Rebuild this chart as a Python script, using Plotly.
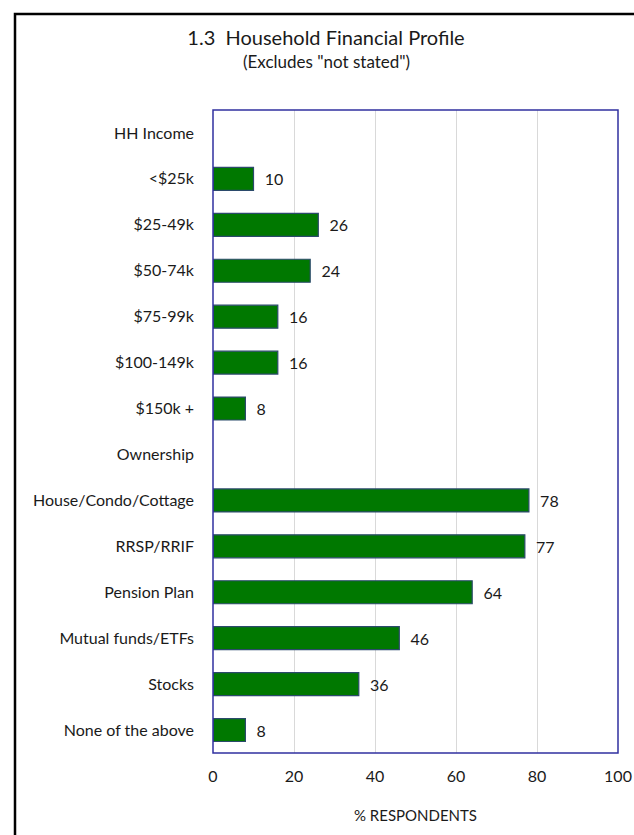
import plotly.graph_objects as go

categories = ["HH Income", "<$25k", "$25-49k", "$50-74k", "$75-99k", "$100-149k", "$150k +",
              "Ownership", "House/Condo/Cottage", "RRSP/RRIF", "Pension Plan",
              "Mutual funds/ETFs", "Stocks", "None of the above"]
values = [None, 10, 26, 24, 16, 16, 8, None, 78, 77, 64, 46, 36, 8]
x_ticks = [0, 20, 40, 60, 80, 100]

FONT = "Lato, 'Open Sans', sans-serif"
NB = "\u00a0"
TXT = "#1a1a1a"

fig = go.Figure(go.Bar(
    y=categories, x=values, orientation="h",
    marker=dict(color="#007800", line=dict(color="#2B4A6B", width=1.2)),
    width=0.5,
    text=[("" if v is None else NB * 2 + str(v)) for v in values],
    textposition="outside", cliponaxis=False,
    textfont=dict(family=FONT, size=16, color=TXT),
))

L, R, T, B = 213, 16, 110, 82
W, H = 634, 835
pw, ph = W - L - R, H - T - B

def px_to_paper_x(px):
    return (px - L) / pw

def px_to_paper_y(py):
    return (H - B - py) / ph

fig.update_layout(
    width=W, height=H, autosize=False,
    margin=dict(l=L, r=R, t=T, b=B, autoexpand=False),
    paper_bgcolor="white", plot_bgcolor="white",
    showlegend=False,
    font=dict(family=FONT, size=16, color=TXT),
    title=dict(
        text="1.3  Household Financial Profile",
        x=326 / W, xanchor="center",
        y=1 - 38 / H, yanchor="middle",
        font=dict(family=FONT, size=20, color=TXT),
    ),
    annotations=[
        dict(text="(Excludes \"not stated\")", xref="paper", yref="paper",
             x=px_to_paper_x(326), y=px_to_paper_y(61), xanchor="center", yanchor="middle",
             showarrow=False, font=dict(family=FONT, size=17, color=TXT)),
    ],
    xaxis=dict(
        range=[0, 100], tickvals=x_ticks, ticktext=[str(t) for t in x_ticks],
        showgrid=True, gridcolor="#D9D9D9", gridwidth=1,
        zeroline=False, showline=False, automargin=False,
        ticks="", ticklabelstandoff=12,
        tickfont=dict(family=FONT, size=16, color=TXT),
        title=dict(text="% RESPONDENTS", font=dict(family=FONT, size=15, color=TXT), standoff=26),
    ),
    yaxis=dict(
        categoryorder="array", categoryarray=categories, autorange="reversed",
        showgrid=False, zeroline=False, showline=False, ticks="", automargin=False,
        ticklabelstandoff=18,
        tickfont=dict(family=FONT, size=16, color=TXT),
    ),
    shapes=[
        dict(type="rect", xref="paper", yref="paper", x0=0, x1=1, y0=0, y1=1,
             line=dict(color="#3030A0", width=1.5), fillcolor="rgba(0,0,0,0)", layer="above"),
        dict(type="rect", xref="paper", yref="paper",
             x0=px_to_paper_x(15), x1=px_to_paper_x(700),
             y0=px_to_paper_y(900), y1=px_to_paper_y(14),
             line=dict(color="#000000", width=2.5), fillcolor="rgba(0,0,0,0)"),
    ],
)

fig.write_html("out.html",
               config={"displayModeBar": False, "responsive": False},
               post_script="document.body.style.margin='0';document.body.style.overflow='hidden';")
